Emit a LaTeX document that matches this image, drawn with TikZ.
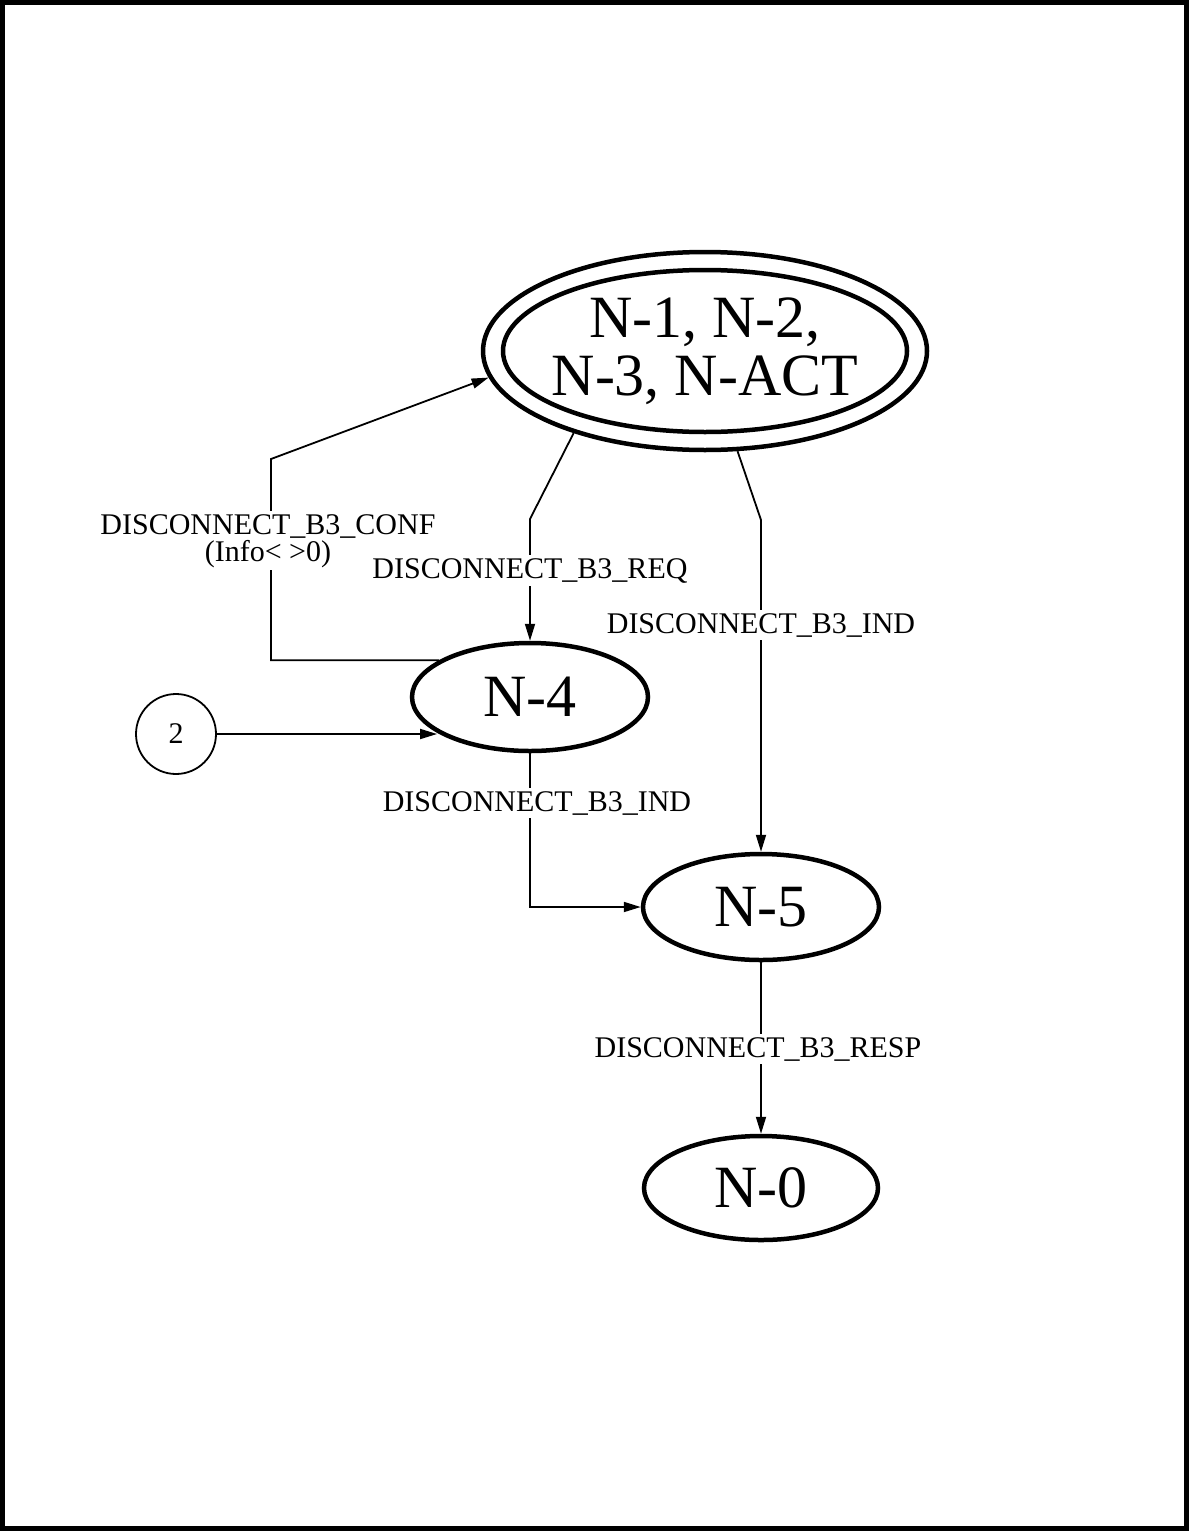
\documentclass[tikz,border=0pt]{standalone}
\usepackage{fontspec}
\setmainfont{Liberation Serif}
\usetikzlibrary{shapes.geometric,arrows.meta}

\tikzset{
  state/.style={draw, ellipse, line width=4.5pt, inner sep=0pt,
    font=\fontsize{60}{58}\selectfont, align=center},
  conn/.style={line width=1.8pt},
  arr/.style={conn, -{Triangle[length=17pt,width=10pt]}},
  lbl/.style={fill=white, inner sep=3pt, anchor=base,
    font=\fontsize{30}{32}\selectfont, align=center},
  pagelink/.style={draw, circle, line width=1.8pt, minimum size=80pt,
    inner sep=0pt}
}

\begin{document}
\begin{tikzpicture}[x=1pt, y=-1pt]
  \useasboundingbox (0,0) rectangle (1189,1531);
  % page frame
  \draw[line width=5pt] (2.5,2.5) rectangle (1186.5,1528.5);

  % states
  \node[state, minimum width=444pt, minimum height=198pt] (N1) at (705,351)
    {N-1, N-2,\\N-3, N-ACT};
  \draw[line width=4.5pt] (N1.center) ellipse [x radius=202pt, y radius=81pt];
  \node[state, minimum width=236pt, minimum height=108pt] (N4) at (530,697) {N-4};
  \node[state, minimum width=236pt, minimum height=106pt] (N5) at (761,907) {N-5};
  \node[state, minimum width=234pt, minimum height=104pt] (N0) at (761,1188) {N-0};
  \node[pagelink] (C2) at (176,734) {\fontsize{30}{30}\selectfont 2};

  % bend points
  \coordinate (confB) at (271,459);
  \coordinate (reqB) at (530,519);
  \coordinate (indB) at (761,520);

  % transitions
  \draw[arr] (N4.158.7) -- (N4.158.7 -| confB) -- (confB) -- (N1.187.5);
  \draw[arr] (N1.212.6) -- (reqB) -- (N4.north);
  \draw[arr] (N1.288) -- (indB) -- (N5.north);
  \draw[arr] (C2.east) -- (C2.east -| N4.201.3);
  \draw[arr] (N4.south) |- (N5.west);
  \draw[arr] (N5.south) -- (N0.north);

  % transition labels
  \node[lbl] (lconf) at (268,561) {DISCONNECT\_B3\_CONF\\[-5pt](Info< >0)};
  \node[lbl] (lreq) at (530,578) {DISCONNECT\_B3\_REQ};
  \node[lbl] (lind1) at (761,633) {DISCONNECT\_B3\_IND};
  \node[lbl] (lind2) at (537,811) {DISCONNECT\_B3\_IND};
  \node[lbl] (lresp) at (758,1057) {DISCONNECT\_B3\_RESP};
\end{tikzpicture}
\end{document}
